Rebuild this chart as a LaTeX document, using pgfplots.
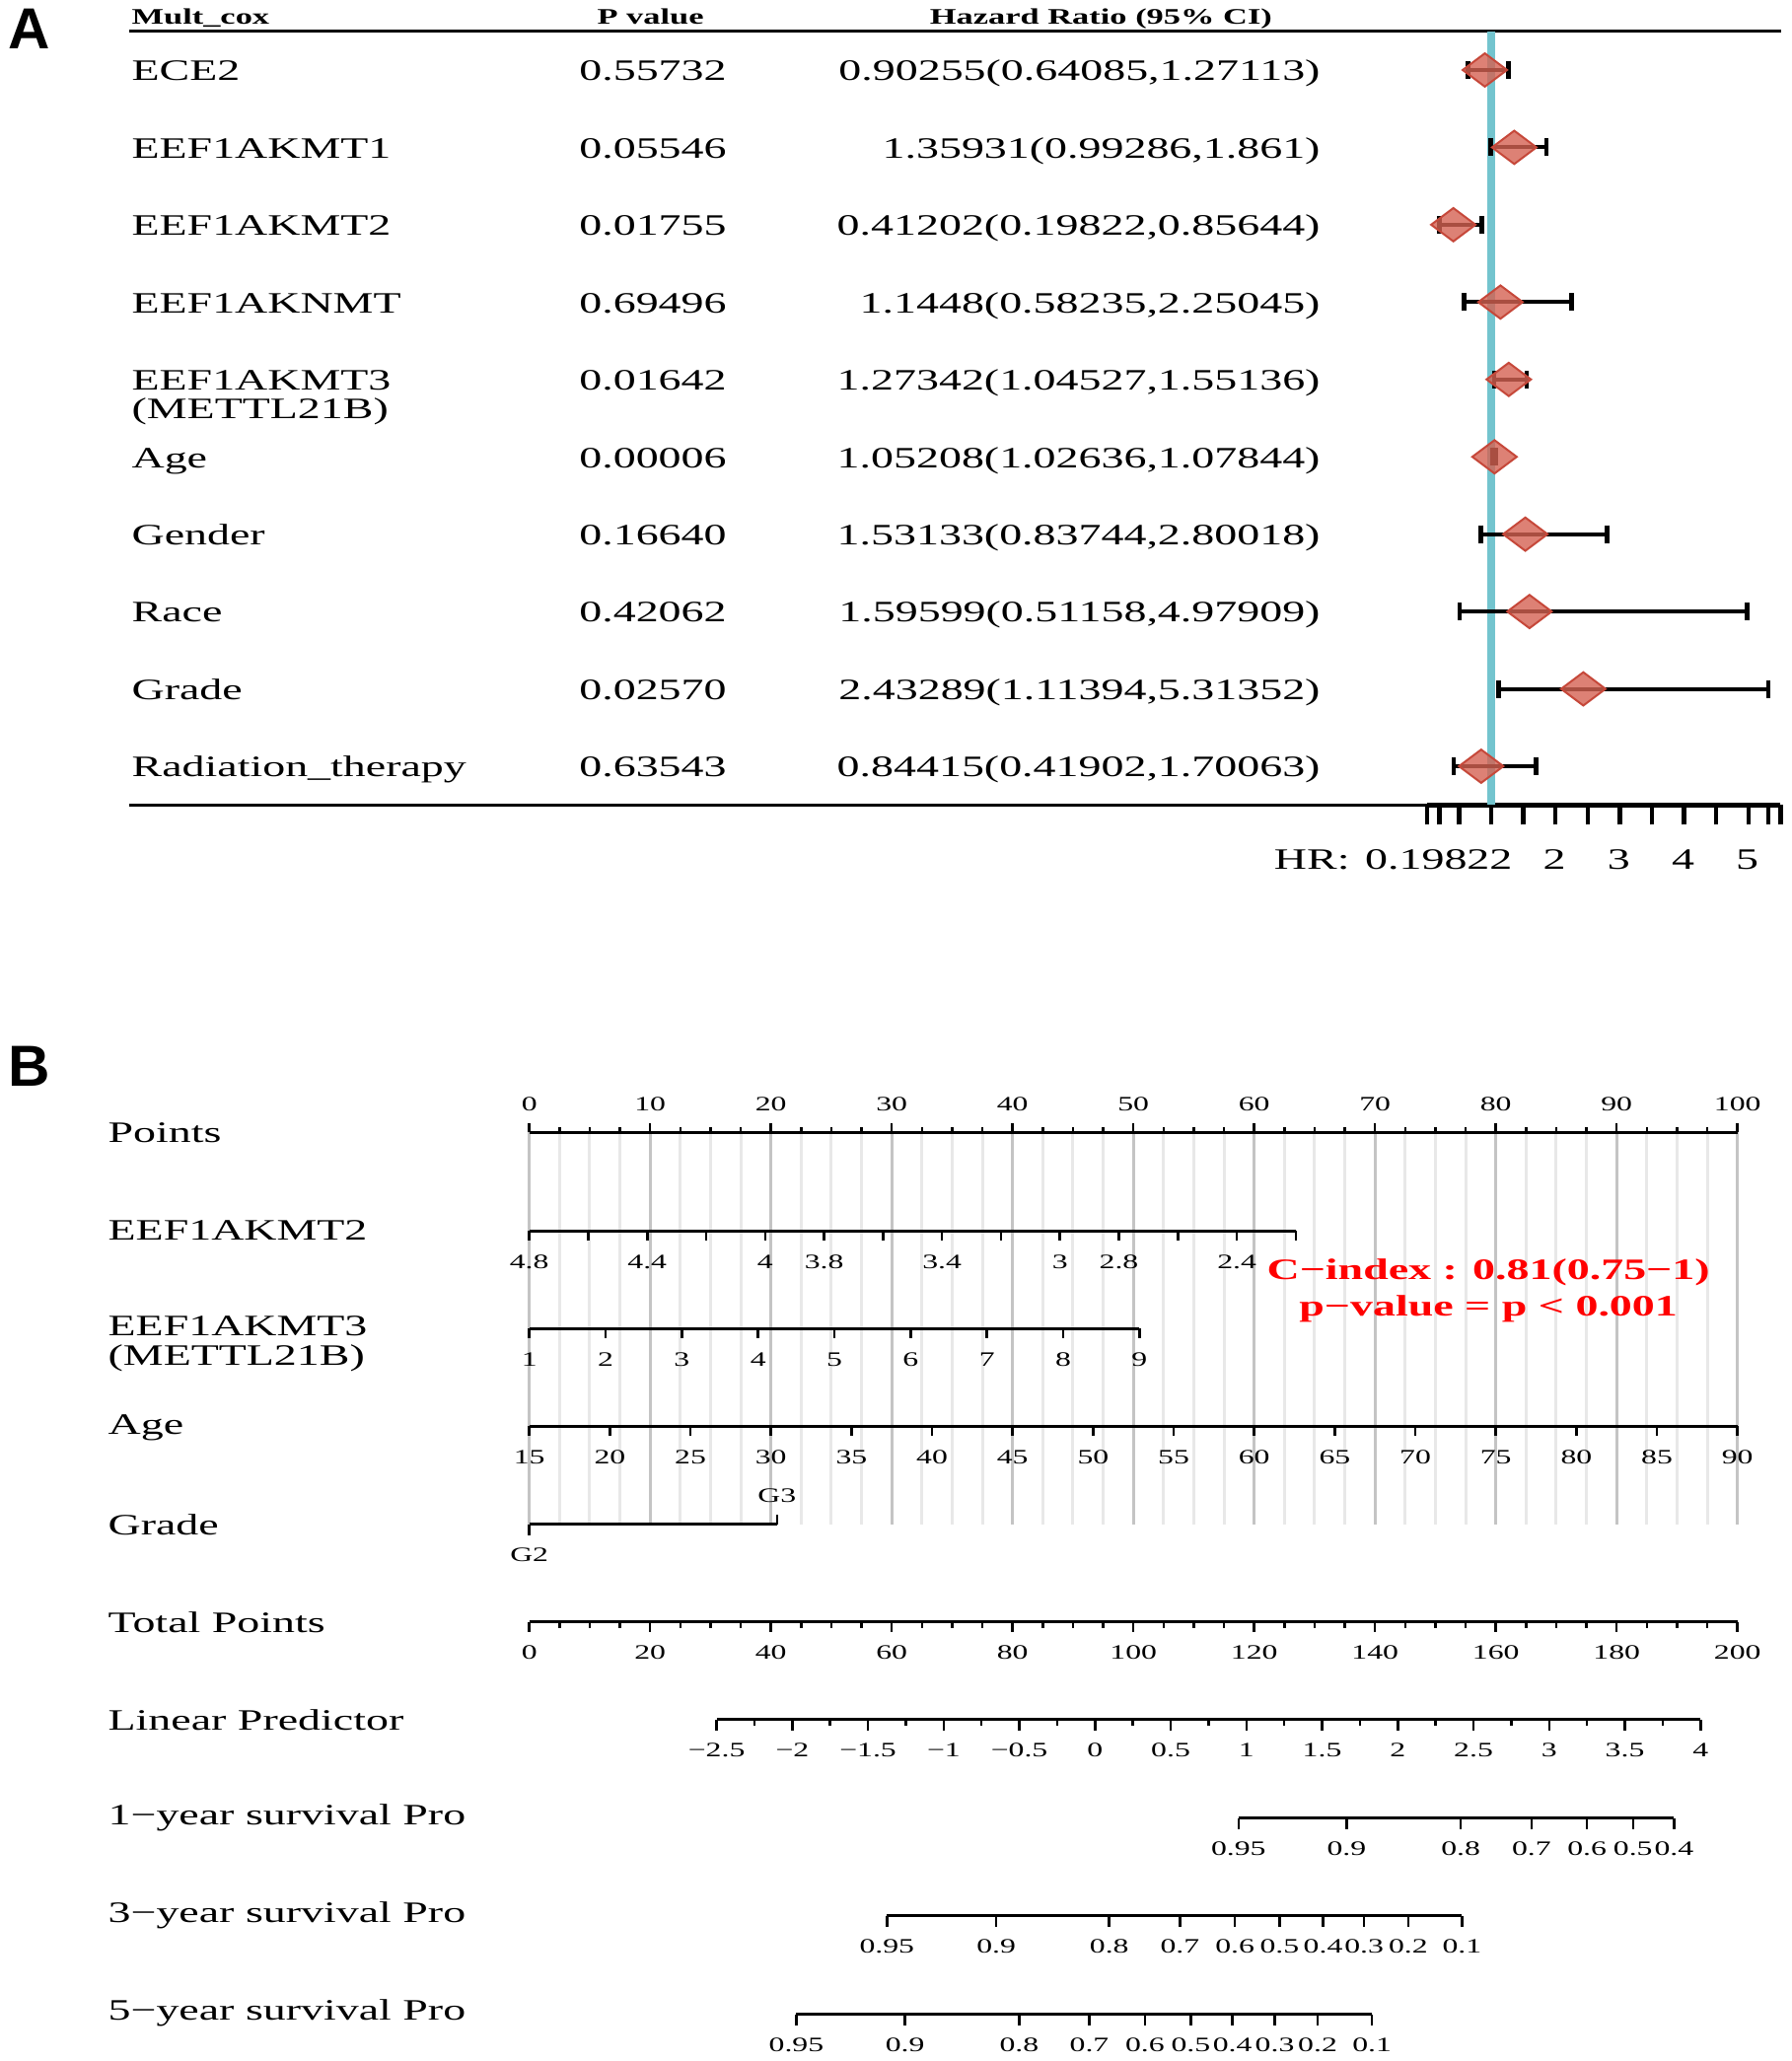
\documentclass[border=0pt]{standalone}
\usepackage{graphicx}
\usepackage{fontspec}
\setmainfont{Liberation Serif}
\newfontfamily\panelfont{Liberation Sans}
\usepackage{pgfplots}
\usepackage{pgfplotstable}
\pgfplotsset{compat=1.18}

\definecolor{hrcyan}{RGB}{115,196,206}
\definecolor{dfill}{RGB}{212,98,82}
\definecolor{dline}{RGB}{198,72,58}
\definecolor{gmaj}{RGB}{196,196,196}
\definecolor{gmin}{RGB}{232,232,232}

% the R output was stretched sideways, so all its text is too
\newcommand\sx[1]{\scalebox{1.53}[1]{#1}}
\newcommand\rowfont{\fontsize{8.54pt}{10pt}\selectfont}
\newcommand\tickfont{\fontsize{5.9pt}{7pt}\selectfont}
\newcommand\headfont{\fontsize{6.4pt}{7.5pt}\selectfont\bfseries}
\newcommand\panfont{\panelfont\fontsize{16.7pt}{18pt}\selectfont\bfseries}

% panel A: multivariate cox
\pgfplotstableread{
row hr lo hi
1 0.90255 0.64085 1.27113
2 1.35931 0.99286 1.861
3 0.41202 0.19822 0.85644
4 1.1448 0.58235 2.25045
5 1.27342 1.04527 1.55136
6 1.05208 1.02636 1.07844
7 1.53133 0.83744 2.80018
8 1.59599 0.51158 4.97909
9 2.43289 1.11394 5.31352
10 0.84415 0.41902 1.70063
}\forestdata

% panel B: nomogram scales, x in points (0-100)
\pgfplotstableread{
x tp
0 0
10 20
20 40
30 60
40 80
50 100
60 120
70 140
80 160
90 180
100 200
}\majorten
\pgfplotstableread{
x k
2.5 1
5 2
7.5 3
12.5 5
15 6
17.5 7
22.5 9
25 10
27.5 11
32.5 13
35 14
37.5 15
42.5 17
45 18
47.5 19
52.5 21
55 22
57.5 23
62.5 25
65 26
67.5 27
72.5 29
75 30
77.5 31
82.5 33
85 34
87.5 35
92.5 37
95 38
97.5 39
}\minorqt
\pgfplotstableread{
x l
0 4.8
4.88 {}
9.76 4.4
14.64 {}
19.52 4
24.40 3.8
29.28 {}
34.16 3.4
39.04 {}
43.92 3
48.80 2.8
53.68 {}
58.56 2.4
63.44 {}
}\akmttwo
\pgfplotstableread{
x l
0 1
6.31 2
12.63 3
18.94 4
25.25 5
31.56 6
37.88 7
44.19 8
50.5 9
}\akmtthree
\pgfplotstableread{
x l
0 15
6.667 20
13.333 25
20 30
26.667 35
33.333 40
40 45
46.667 50
53.333 55
60 60
66.667 65
73.333 70
80 75
86.667 80
93.333 85
100 90
}\agescale
\pgfplotstableread{
x l
15.50 −2.5
21.77 −2
28.03 −1.5
34.30 −1
40.56 −0.5
46.83 0
53.09 0.5
59.36 1
65.62 1.5
71.89 2
78.15 2.5
84.42 3
90.68 3.5
96.95 4
}\lpmajor
\pgfplotstableread{
x lp
18.63 -2.25
24.90 -1.75
31.16 -1.25
37.43 -0.75
43.69 -0.25
49.96 0.25
56.22 0.75
62.49 1.25
68.75 1.75
75.02 2.25
81.28 2.75
87.55 3.25
93.81 3.75
}\lpminor
\pgfplotstableread{
x l
58.70 0.95
67.65 0.9
77.10 0.8
82.95 0.7
87.55 0.6
91.35 0.5
94.75 0.4
}\surva
\pgfplotstableread{
x l
29.6 0.95
38.65 0.9
48.0 0.8
53.85 0.7
58.4 0.6
62.1 0.5
65.7 0.4
69.1 0.3
72.75 0.2
77.2 0.1
}\survb
\pgfplotstableread{
x l
22.1 0.95
31.1 0.9
40.55 0.8
46.35 0.7
50.95 0.6
54.75 0.5
58.2 0.4
61.7 0.3
65.25 0.2
69.75 0.1
}\survc

\pgfplotsset{
  nomark/.style={only marks, mark=text, text mark={}},
  sline/.style={black, line width=0.03cm, mark=none},
  tkdn/.style={nomark, error bars/y dir=minus, error bars/y fixed=#1,
    error bars/error mark=none, error bars/error bar style={black, line width=0.025cm}},
  tkup/.style={nomark, error bars/y dir=plus, error bars/y fixed=#1,
    error bars/error mark=none, error bars/error bar style={black, line width=0.025cm}},
  gline/.style={nomark, error bars/y dir=minus, error bars/y fixed=398,
    error bars/error mark=none, error bars/error bar style={#1, line width=0.03cm}},
  labdn/.style={nomark, point meta=explicit symbolic,
    nodes near coords={\sx{\pgfplotspointmeta}},
    every node near coord/.append style={anchor=base, yshift=-0.38cm, font=\tickfont, inner sep=0pt, text=black}},
  labup/.style={nomark, point meta=explicit symbolic,
    nodes near coords={\sx{\pgfplotspointmeta}},
    every node near coord/.append style={anchor=base, yshift=0.22cm, font=\tickfont, inner sep=0pt, text=black}},
}

\begin{document}
\begin{tikzpicture}
\path[use as bounding box] (0,0) rectangle (18.17,-20.90);

% ---------- A: forest plot ----------
\begin{axis}[
  at={(1.31cm,-0.3175cm)}, anchor=north west,
  scale only axis, width=16.75cm, height=7.845cm,
  xmin=-20.18, xmax=5.51, ymin=-10.5, ymax=-0.5,
  axis line style={draw=none},
  ytick=\empty,
  xtick={0,0.19822,0.5,1,1.5,2,2.5,3,3.5,4,4.5,5,5.31352,5.5},
  xticklabels={}, xtick pos=left,
  tick align=outside, major tick length=0.2cm,
  xtick style={line width=0.045cm, black},
  clip=false,
]
\draw[line width=0.027cm] (axis cs:-20.18,-0.5) -- (axis cs:5.51,-0.5);
\draw[line width=0.025cm] (axis cs:-20.18,-10.5) -- (axis cs:0,-10.5);
\draw[line width=0.045cm] (axis cs:0,-10.5) -- (axis cs:5.5,-10.5);
\addplot[hrcyan, line width=0.075cm] coordinates {(1,-0.5) (1,-10.5)};
\addplot[nomark,
  error bars/.cd, x dir=both, x explicit, error mark=none,
  error bar style={black, line width=0.04cm}]
  table[x=hr, y expr=-\thisrow{row},
    x error plus expr=\thisrow{hi}-\thisrow{hr},
    x error minus expr=\thisrow{hr}-\thisrow{lo}] {\forestdata};
\addplot[only marks, mark=|, mark size=0.09cm, mark options={line width=0.045cm, black}]
  table[x=lo, y expr=-\thisrow{row}] {\forestdata};
\addplot[only marks, mark=|, mark size=0.09cm, mark options={line width=0.045cm, black}]
  table[x=hi, y expr=-\thisrow{row}] {\forestdata};
\addplot[only marks, mark=diamond*, mark size=0.225cm,
  mark options={rotate=90, fill=dfill, fill opacity=0.8, draw=dline, line width=0.02cm}]
  table[x=hr, y expr=-\thisrow{row}] {\forestdata};
\end{axis}

% ---------- B: nomogram ----------
\begin{axis}[
  at={(5.367cm,-11cm)}, anchor=north west,
  scale only axis, width=12.25cm, height=9.9cm,
  xmin=0, xmax=100, ymin=-2090, ymax=-1100,
  hide axis, clip=false,
]
% grid
\addplot[gline=gmin] table[x=x, y expr=-1148] {\minorqt};
\addplot[gline=gmaj] table[x=x, y expr=-1148] {\majorten};
% Points
\addplot[sline] coordinates {(0,-1148) (100,-1148)};
\addplot[tkup=9] table[x=x, y expr=-1148] {\majorten};
\addplot[tkup=5] table[x=x, y expr=-1148] {\minorqt};
\addplot[labup] table[x=x, y expr=-1148, meta=x] {\majorten};
% EEF1AKMT2
\addplot[sline] coordinates {(0,-1248) (63.44,-1248)};
\addplot[tkdn=10] table[x=x, y expr=-1248] {\akmttwo};
\addplot[labdn] table[x=x, y expr=-1248, meta=l] {\akmttwo};
% EEF1AKMT3
\addplot[sline] coordinates {(0,-1347) (50.5,-1347)};
\addplot[tkdn=10] table[x=x, y expr=-1347] {\akmtthree};
\addplot[labdn] table[x=x, y expr=-1347, meta=l] {\akmtthree};
% Age
\addplot[sline] coordinates {(0,-1446) (100,-1446)};
\addplot[tkdn=10] table[x=x, y expr=-1446] {\agescale};
\addplot[labdn] table[x=x, y expr=-1446, meta=l] {\agescale};
% Grade
\addplot[sline] coordinates {(0,-1546) (20.5,-1546)};
\addplot[tkdn=11] coordinates {(0,-1546)};
\addplot[tkup=10] coordinates {(20.5,-1546)};
\addplot[labdn] coordinates {(0,-1546) [G2]};
\addplot[labup] coordinates {(20.5,-1546) [G3]};
% Total Points
\addplot[sline] coordinates {(0,-1645) (100,-1645)};
\addplot[tkdn=10] table[x=x, y expr=-1645] {\majorten};
\addplot[tkdn=6] table[x=x, y expr=-1645] {\minorqt};
\addplot[labdn] table[x=x, y expr=-1645, meta=tp] {\majorten};
% Linear Predictor
\addplot[sline] coordinates {(15.5,-1744) (96.95,-1744)};
\addplot[tkdn=11] table[x=x, y expr=-1744] {\lpmajor};
\addplot[tkdn=6] table[x=x, y expr=-1744] {\lpminor};
\addplot[labdn] table[x=x, y expr=-1744, meta=l] {\lpmajor};
% survival
\addplot[sline] coordinates {(58.70,-1844) (94.75,-1844)};
\addplot[tkdn=11] table[x=x, y expr=-1844] {\surva};
\addplot[labdn] table[x=x, y expr=-1844, meta=l] {\surva};
\addplot[sline] coordinates {(29.6,-1943) (77.2,-1943)};
\addplot[tkdn=11] table[x=x, y expr=-1943] {\survb};
\addplot[labdn] table[x=x, y expr=-1943, meta=l] {\survb};
\addplot[sline] coordinates {(22.1,-2043) (69.75,-2043)};
\addplot[tkdn=11] table[x=x, y expr=-2043] {\survc};
\addplot[labdn] table[x=x, y expr=-2043, meta=l] {\survc};
\end{axis}

% ---------- text, in pixel units of the reference ----------
\begin{scope}[x=0.01cm, y=-0.01cm, every node/.style={inner sep=0pt}]
\node[anchor=base west, font=\panfont] at (8,50) {A};
\node[anchor=base west, font=\panfont] at (8,1102) {B};

\node[anchor=base west, font=\headfont] at (133,25) {\sx{Mult\_cox}};
\node[anchor=base, font=\headfont] at (660,25) {\sx{P value}};
\node[anchor=base, font=\headfont] at (1117,25) {\sx{Hazard Ratio (95\% CI)}};

\begin{scope}[every node/.append style={font=\rowfont}]
\node[anchor=base west] at (133,82) {\sx{ECE2}};
\node[anchor=base west] at (133,160.5) {\sx{EEF1AKMT1}};
\node[anchor=base west] at (133,239) {\sx{EEF1AKMT2}};
\node[anchor=base west] at (133,317.5) {\sx{EEF1AKNMT}};
\node[anchor=base west] at (133,396) {\sx{EEF1AKMT3}};
\node[anchor=base west] at (133,425) {\sx{(METTL21B)}};
\node[anchor=base west] at (133,474.5) {\sx{Age}};
\node[anchor=base west] at (133,553) {\sx{Gender}};
\node[anchor=base west] at (133,631) {\sx{Race}};
\node[anchor=base west] at (133,709.5) {\sx{Grade}};
\node[anchor=base west] at (133,788) {\sx{Radiation\_therapy}};

\node[anchor=base west] at (587,82) {\sx{0.55732}};
\node[anchor=base west] at (587,160.5) {\sx{0.05546}};
\node[anchor=base west] at (587,239) {\sx{0.01755}};
\node[anchor=base west] at (587,317.5) {\sx{0.69496}};
\node[anchor=base west] at (587,396) {\sx{0.01642}};
\node[anchor=base west] at (587,474.5) {\sx{0.00006}};
\node[anchor=base west] at (587,553) {\sx{0.16640}};
\node[anchor=base west] at (587,631) {\sx{0.42062}};
\node[anchor=base west] at (587,709.5) {\sx{0.02570}};
\node[anchor=base west] at (587,788) {\sx{0.63543}};

\node[anchor=base east] at (1340,82) {\sx{0.90255(0.64085,1.27113)}};
\node[anchor=base east] at (1340,160.5) {\sx{1.35931(0.99286,1.861)}};
\node[anchor=base east] at (1340,239) {\sx{0.41202(0.19822,0.85644)}};
\node[anchor=base east] at (1340,317.5) {\sx{1.1448(0.58235,2.25045)}};
\node[anchor=base east] at (1340,396) {\sx{1.27342(1.04527,1.55136)}};
\node[anchor=base east] at (1340,474.5) {\sx{1.05208(1.02636,1.07844)}};
\node[anchor=base east] at (1340,553) {\sx{1.53133(0.83744,2.80018)}};
\node[anchor=base east] at (1340,631) {\sx{1.59599(0.51158,4.97909)}};
\node[anchor=base east] at (1340,709.5) {\sx{2.43289(1.11394,5.31352)}};
\node[anchor=base east] at (1340,788) {\sx{0.84415(0.41902,1.70063)}};

% HR axis labels
\node[anchor=base east] at (1370,882) {\sx{HR:}};
\node[anchor=base] at (1459.6,882) {\sx{0.19822}};
\node[anchor=base] at (1577.1,882) {\sx{2}};
\node[anchor=base] at (1642.3,882) {\sx{3}};
\node[anchor=base] at (1707.5,882) {\sx{4}};
\node[anchor=base] at (1772.7,882) {\sx{5}};

% nomogram rows
\node[anchor=base west] at (109,1159) {\sx{Points}};
\node[anchor=base west] at (109,1258) {\sx{EEF1AKMT2}};
\node[anchor=base west] at (109,1355) {\sx{EEF1AKMT3}};
\node[anchor=base west] at (109,1385) {\sx{(METTL21B)}};
\node[anchor=base west] at (109,1455) {\sx{Age}};
\node[anchor=base west] at (109,1557) {\sx{Grade}};
\node[anchor=base west] at (109,1656) {\sx{Total Points}};
\node[anchor=base west] at (109,1755) {\sx{Linear Predictor}};
\node[anchor=base west] at (109,1852) {\sx{1−year survival Pro}};
\node[anchor=base west] at (109,1951) {\sx{3−year survival Pro}};
\node[anchor=base west] at (109,2050) {\sx{5−year survival Pro}};

\node[anchor=base, text=red, font=\rowfont\bfseries] at (1510,1298) {\sx{C−index : 0.81(0.75−1)}};
\node[anchor=base, text=red, font=\rowfont\bfseries] at (1510,1335) {\sx{p−value = p < 0.001}};
\end{scope}
\end{scope}
\end{tikzpicture}
\end{document}
